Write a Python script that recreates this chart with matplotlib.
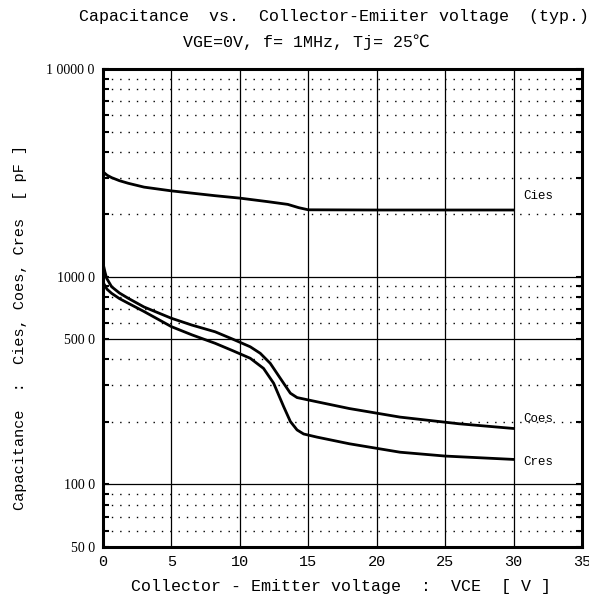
import matplotlib
matplotlib.use('Agg')
import matplotlib.pyplot as plt
from matplotlib.ticker import FixedLocator, NullFormatter

mono = {'family': 'Liberation Mono'}

# data
vce_cies = [0, 0.3, 0.63, 1.2, 1.85, 3, 5, 8.2, 10, 12, 13.5, 14.3, 15, 20, 25, 30]
cies = [3200, 3080, 3000, 2900, 2817, 2700, 2590, 2455, 2390, 2300, 2230, 2150, 2100, 2095, 2095, 2095]

vce_coes = [0, 0.15, 0.27, 0.63, 1.2, 1.85, 3, 5, 6.5, 8.2, 9.5, 10.76, 11.49, 12.22, 12.96,
            13.69, 14.18, 14.66, 15.64, 18, 21.7, 26, 30]
coes = [1160, 1050, 982, 895, 835, 787, 715, 631, 585, 543, 500, 460, 428, 383, 324,
        275, 262, 258, 250, 232, 211, 196, 186]

vce_cres = [0, 0.3, 0.63, 1.2, 1.85, 3, 5, 6.5, 8.2, 9.5, 10.76, 11.73, 12.47, 13.2,
            13.69, 14.18, 14.66, 15.64, 18, 21.7, 25, 30]
cres = [940, 870, 832, 785, 745, 680, 575, 525, 478, 440, 405, 362, 307, 237,
        201, 183, 175, 169, 157, 143, 137, 132]

x_ticks = [0, 5, 10, 15, 20, 25, 30, 35]
y_ticks = [50, 100, 500, 1000, 10000]
y_ticklabels = ['50 0', '100 0', '500 0', '1000 0', '1 0000 0']
y_solid = [100, 500, 1000]
y_dotted = [60, 70, 80, 90, 200, 300, 400, 600, 700, 800, 900,
            2000, 3000, 4000, 5000, 6000, 7000, 8000, 9000]

fig = plt.figure(figsize=(5.89, 6.0), dpi=100)
ax = fig.add_axes([103/589, 1-547/600, (582-103)/589, (547-69)/600])
ax.set_yscale('log')
ax.set_xlim(0, 35)
ax.set_ylim(50, 10000)

for v in x_ticks[1:-1]:
    ax.axvline(v, color='k', lw=0.9, zorder=1)
for v in y_solid:
    ax.axhline(v, color='k', lw=0.9, zorder=1)
for v in y_dotted:
    ax.axhline(v, color='k', lw=1.0, ls=(0, (1, 5)), zorder=1)

ax.plot(vce_cies, cies, color='k', lw=2, zorder=3)
ax.plot(vce_coes, coes, color='k', lw=2, zorder=3)
ax.plot(vce_cres, cres, color='k', lw=2, zorder=3)

ax.text(30.7, 2450, 'Cies', fontsize=9, va='center', **mono)
ax.text(30.7, 206, 'Coes', fontsize=9, va='center', **mono)
ax.text(30.7, 128, 'Cres', fontsize=9, va='center', **mono)

ax.xaxis.set_major_locator(FixedLocator(x_ticks))
ax.set_xticklabels([str(v) for v in x_ticks], fontsize=11, **mono)
ax.yaxis.set_major_locator(FixedLocator(y_ticks))
ax.yaxis.set_minor_locator(FixedLocator(y_dotted))
ax.yaxis.set_minor_formatter(NullFormatter())
ax.set_yticklabels(y_ticklabels, fontsize=10, family='Liberation Serif')
ax.tick_params(axis='y', which='both', direction='in', left=True, right=True, length=4, width=1.5, pad=6)
ax.tick_params(axis='x', direction='in', length=0, pad=6)
for s in ax.spines.values():
    s.set_linewidth(2.2)

fig.text(334/589, 1-17/600, 'Capacitance  vs.  Collector-Emiiter voltage  (typ.)',
         ha='center', va='center', fontsize=12, **mono)
fig.text(306/589, 1-42/600, 'VGE=0V, f= 1MHz, Tj= 25\u2103',
         ha='center', va='center', fontsize=12, family=['Liberation Mono', 'Noto Sans CJK JP', 'DejaVu Sans'])
fig.text(341/589, 1-587/600, 'Collector - Emitter voltage  :  VCE  [ V ]',
         ha='center', va='center', fontsize=12, **mono)
fig.text(20/589, 1-327/600, 'Capacitance  :  Cies, Coes, Cres  [ pF ]',
         ha='center', va='center', rotation=90, fontsize=11, **mono)

fig.savefig('out.png', dpi=100)
